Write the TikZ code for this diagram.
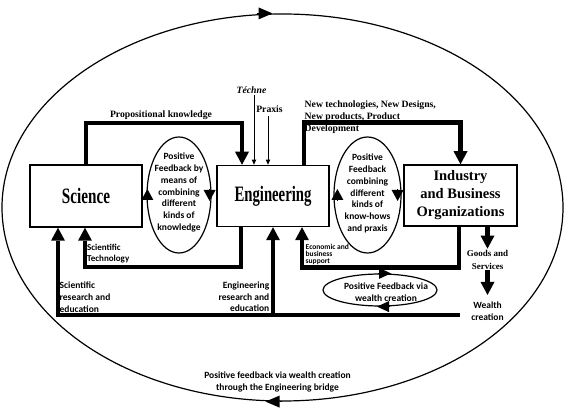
\documentclass[tikz,border=0pt]{standalone}
\usepackage{fontspec}
\setmainfont{Liberation Serif}
\newfontfamily\calib{Carlito}
\usetikzlibrary{arrows.meta,shapes.geometric,calc}
\tikzset{
  box/.style={draw, line width=1.5pt, minimum width=112pt, minimum height=61pt, inner sep=0pt},
  bigarrow/.style={line width=4.5pt, -{Triangle[width=14pt,length=13pt,line width=0pt]}},
  thinarrow/.style={line width=0.8pt, -{Triangle[width=4.5pt,length=5pt,line width=0pt]}},
  ellarrow/.style={line width=1.2pt, -{Triangle[width=12pt,length=11pt,line width=0pt]}},
  loopellipse/.style={draw, ellipse, line width=1.2pt, inner sep=0pt},
  serlbl/.style={inner sep=0.5pt, font=\bfseries\fontsize{9.7}{12}\selectfont},
  callbl/.style={inner sep=0.5pt, font=\calib\bfseries\fontsize{9.5}{11.7}\selectfont},
}
\begin{document}
\begin{tikzpicture}[x=1pt,y=-1pt]
\useasboundingbox (0,0) rectangle (565,411);
% outer loop
\node[loopellipse, minimum width=561pt, minimum height=387pt] (loop) at (282.5,207.5) {};
\draw[line width=1.2pt, -{Triangle[width=12pt,length=14pt,line width=0pt]}] ($(loop.north)+(-26,0)$) -- ($(loop.north)+(-10,0)$);
\draw[line width=1.2pt, -{Triangle[width=12pt,length=14pt,line width=0pt]}] ($(loop.south)+(-1,0)$) -- ($(loop.south)+(-17,0)$);
% boxes
\node[box, minimum height=62pt] (sci) at (86,196) {\scalebox{0.69}[1]{\bfseries\fontsize{22}{24}\selectfont Science}};
\node[box] (eng) at (273,196) {\scalebox{0.67}[1]{\bfseries\fontsize{22}{24}\selectfont Engineering}};
\node[box, minimum width=113pt, align=center, font=\bfseries\fontsize{14.5}{18}\selectfont] (ind) at (460.5,195.5) {Industry\\and Business\\Organizations};
% feedback ellipses
\node[loopellipse, minimum width=64pt, minimum height=116pt] (fb1) at (179,195) {};
\node[callbl, align=center] (t1) at (179,192.5) {Positive\\Feedback by\\means of\\combining\\different\\kinds of\\knowledge};
\node[loopellipse, minimum width=67pt, minimum height=116pt] (fb2) at (367.5,195) {};
\node[callbl, align=center] (t2) at (367.5,193.5) {Positive\\Feedback\\combining\\different\\kinds of\\know-hows\\and praxis};
\draw[ellarrow] ($(fb1.west)+(1,6)$) -- ($(fb1.west)+(1,-6)$);
\draw[ellarrow] ($(fb1.east)+(-2,-6)$) -- ($(fb1.east)+(-2,6)$);
\draw[ellarrow] ($(fb2.west)+(4,6)$) -- ($(fb2.west)+(4,-6)$);
\draw[ellarrow] ($(fb2.east)+(-4,-6)$) -- ($(fb2.east)+(-4,6)$);
\node[loopellipse, minimum width=114pt, minimum height=32pt] (fbw) at (380,290) {};
\node[callbl] [align=center] (tw) at (386,292.5) {Positive Feedback via\\wealth creation};
\draw[line width=1.2pt, -{Triangle[width=11pt,length=12pt,line width=0pt]}] ($(fbw.north)+(-2,0)$) -- ($(fbw.north)+(11,0)$);
\draw[line width=1.2pt, -{Triangle[width=11pt,length=12pt,line width=0pt]}] ($(fbw.south)+(10,0)$) -- ($(fbw.south)+(-3,0)$);
% labels
\node[serlbl] (prop) at (161,115) {Propositional knowledge};
\node[serlbl, font=\bfseries\itshape\fontsize{9.7}{12}\selectfont] (techne) at (251.5,90) {Téchne};
\node[serlbl] (praxis) at (269.5,109) {Praxis};
\node[serlbl, align=left, anchor=west] (newtech) at (304,117) {New technologies, New Designs,\\New products, Product\\Development};
\node[callbl, align=left, anchor=west, font=\calib\bfseries\fontsize{9}{11}\selectfont] (scitech) at (86.5,253.5) {Scientific\\Technology};
\node[callbl, align=left, anchor=west] (scires) at (59,297) {Scientific\\research and\\education};
\node[callbl, align=right, anchor=east] (engres) at (270,297) {Engineering\\research and\\education};
\node[callbl, align=left, anchor=west, font=\calib\bfseries\fontsize{7.5}{7}\selectfont] (econ) at (305,254) {Economic and\\business\\support};
\node[serlbl, align=center, font=\bfseries\fontsize{9}{13}\selectfont, inner sep=1pt] (goods) at (487.5,259.5) {Goods and\\Services};
\node[callbl, align=center, font=\calib\bfseries\fontsize{9.5}{12}\selectfont] (wealth) at (487.5,311) {Wealth\\creation};
\node[callbl, align=center, font=\calib\bfseries\fontsize{9.5}{12}\selectfont] (bottomlbl) at (277.5,382) {Positive feedback via wealth creation\\through the Engineering bridge};
% connectors
\coordinate (wc) at (460,315);
\draw[bigarrow] (sci.north) -- ++(0,-41) -| ($(eng.north)+(-31,0)$);
\draw[bigarrow] ($(eng.north)+(31,0)$) -- ++(0,-42) -| (ind.north);
\draw[thinarrow] ($(techne.south)+(2.5,1)$) -- ($(eng.north)+(-19,0)$);
\draw[thinarrow] ($(praxis.south)+(-1.5,3)$) -- ($(eng.north)+(-5,0)$);
\draw[bigarrow] ($(eng.south)+(-32,0)$) -- ++(0,40) -| ($(sci.south)+(-1,0)$);
\draw[bigarrow] ($(ind.south)+(-1.5,0)$) -- ++(0,41) -| ($(eng.south)+(29,0)$);
\draw[bigarrow] (wc) -| ($(sci.south)+(-28,0)$);
\draw[bigarrow] (wc -| eng.south) -- (eng.south);
\draw[bigarrow] (ind.south -| goods.north) -- (goods.north);
\draw[bigarrow, shorten >=6pt] (goods.south) -- (wealth.north);
\end{tikzpicture}
\end{document}
